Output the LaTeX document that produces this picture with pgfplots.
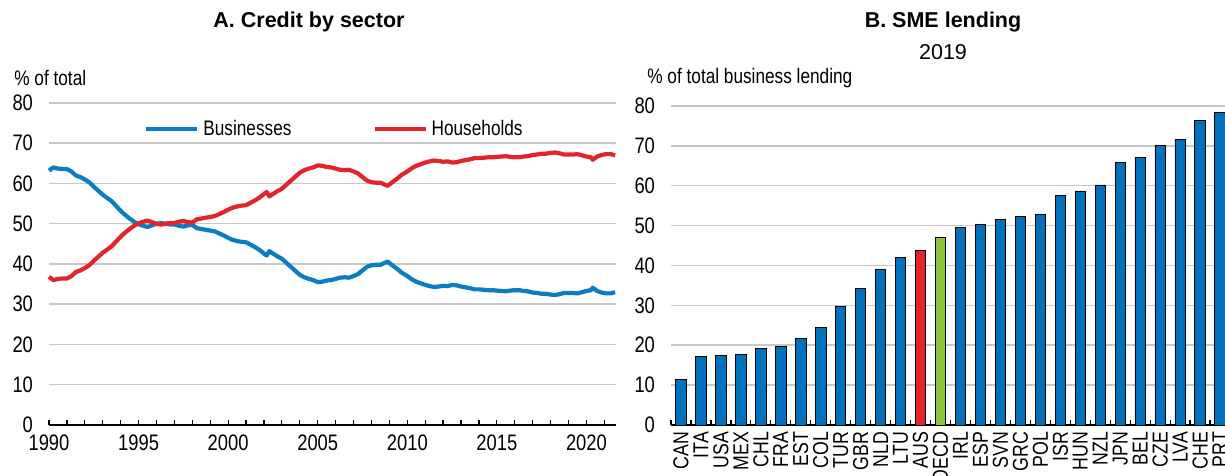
\documentclass[border=0pt]{standalone}
\usepackage{fontspec}
\setmainfont{Liberation Sans}
\newfontfamily\narrowfont{Liberation Sans}[FakeStretch=0.82]
\usepackage{pgfplots}
\usepackage{pgfplotstable}
\pgfplotsset{compat=1.18}
\definecolor{barblue}{HTML}{0072BC}
\definecolor{lineblue}{HTML}{0A7EC2}
\definecolor{ored}{HTML}{E3242B}
\definecolor{ogreen}{HTML}{8CC63F}
\definecolor{gridgray}{HTML}{C8C8C8}

\pgfplotstableread{
year bus hh
1990.00 63.2 36.8
1990.25 64.0 36.0
1990.50 63.7 36.3
1990.75 63.6 36.4
1991.00 63.6 36.4
1991.25 63.0 37.0
1991.50 62.0 38.0
1991.75 61.6 38.4
1992.00 61.0 39.0
1992.25 60.3 39.7
1992.50 59.2 40.8
1992.75 58.2 41.8
1993.00 57.2 42.8
1993.25 56.4 43.6
1993.50 55.6 44.4
1993.75 54.4 45.6
1994.00 53.2 46.8
1994.25 52.2 47.8
1994.50 51.3 48.7
1994.75 50.5 49.5
1995.00 49.9 50.1
1995.25 49.5 50.5
1995.50 49.2 50.8
1995.75 49.6 50.4
1996.00 50.0 50.0
1996.25 50.2 49.8
1996.50 50.0 50.0
1996.75 49.8 50.2
1997.00 49.8 50.2
1997.25 49.5 50.5
1997.50 49.3 50.7
1997.75 49.6 50.4
1998.00 49.7 50.3
1998.25 48.9 51.1
1998.50 48.7 51.3
1998.75 48.5 51.5
1999.00 48.3 51.7
1999.25 48.1 51.9
1999.50 47.6 52.4
1999.75 47.1 52.9
2000.00 46.5 53.5
2000.25 46.0 54.0
2000.50 45.7 54.3
2000.75 45.5 54.5
2001.00 45.4 54.6
2001.25 44.8 55.2
2001.50 44.2 55.8
2001.75 43.5 56.5
2002.00 42.6 57.4
2002.15 42.1 57.9
2002.30 43.2 56.8
2002.50 42.6 57.4
2002.75 41.9 58.1
2003.00 41.3 58.7
2003.25 40.3 59.7
2003.50 39.3 60.7
2003.75 38.3 61.7
2004.00 37.3 62.7
2004.25 36.7 63.3
2004.50 36.3 63.7
2004.75 36.0 64.0
2005.00 35.5 64.5
2005.25 35.6 64.4
2005.50 35.9 64.1
2005.75 36.0 64.0
2006.00 36.3 63.7
2006.25 36.6 63.4
2006.50 36.7 63.3
2006.75 36.6 63.4
2007.00 37.0 63.0
2007.25 37.5 62.5
2007.50 38.4 61.6
2007.75 39.3 60.7
2008.00 39.7 60.3
2008.25 39.8 60.2
2008.50 39.8 60.2
2008.75 40.3 59.7
2008.90 40.6 59.4
2009.10 39.9 60.1
2009.40 38.9 61.1
2009.70 37.8 62.2
2010.00 37.0 63.0
2010.25 36.2 63.8
2010.50 35.6 64.4
2010.75 35.2 64.8
2011.00 34.8 65.2
2011.25 34.5 65.5
2011.50 34.3 65.7
2011.75 34.4 65.6
2012.00 34.6 65.4
2012.25 34.5 65.5
2012.50 34.8 65.2
2012.75 34.7 65.3
2013.00 34.4 65.6
2013.25 34.2 65.8
2013.50 34.0 66.0
2013.75 33.7 66.3
2014.00 33.7 66.3
2014.25 33.6 66.4
2014.50 33.5 66.5
2014.75 33.5 66.5
2015.00 33.4 66.6
2015.25 33.3 66.7
2015.50 33.2 66.8
2015.75 33.4 66.6
2016.00 33.5 66.5
2016.25 33.5 66.5
2016.50 33.3 66.7
2016.75 33.2 66.8
2017.00 32.9 67.1
2017.25 32.8 67.2
2017.50 32.6 67.4
2017.75 32.6 67.4
2018.00 32.4 67.6
2018.25 32.3 67.7
2018.50 32.5 67.5
2018.75 32.8 67.2
2019.00 32.8 67.2
2019.25 32.8 67.2
2019.50 32.7 67.3
2019.75 33.0 67.0
2020.00 33.3 66.7
2020.25 33.5 66.5
2020.35 34.1 65.9
2020.60 33.3 66.7
2020.85 32.9 67.1
2021.10 32.7 67.3
2021.35 32.7 67.3
2021.60 33.0 67.0
}\credit

\pgfplotstableread{
x val
0 11.4
1 17.2
2 17.5
3 17.8
4 19.2
5 19.8
6 21.8
7 24.5
8 29.8
9 34.2
10 38.9
11 42.1
14 49.5
15 50.3
16 51.6
17 52.3
18 52.8
19 57.6
20 58.7
21 60.2
22 65.9
23 67.2
24 70.1
25 71.6
26 76.3
27 78.3
}\smeblue

\pgfplotsset{oecd/.style={
  scale only axis,
  anchor=south west,
  axis x line*=bottom, axis y line*=left,
  y axis line style={draw=none},
  x axis line style={black, line width=0.75pt, -},
  ymin=0, ymax=80, ytick={0,10,...,80},
  ymajorgrids, grid style={gridgray, line width=0.75pt},
  ytick style={draw=none},
  xtick style={black, line width=0.6pt},
  tick align=inside,
  /pgf/number format/assume math mode=true,
  /pgf/number format/1000 sep={},
  ticklabel style={font=\narrowfont\fontsize{11.2}{13}\selectfont},
  yticklabel style={xshift=-4.5pt},
  clip=false,
}}

\begin{document}
\begin{tikzpicture}[x=1pt,y=1pt]
\path[use as bounding box, clip] (0,0) rectangle (612.5,238);

% Panel A
\begin{axis}[oecd, at={(24.5pt,25.5pt)}, width=283.5pt, height=161pt,
  xmin=1990, xmax=2021.65,
  xtick={1990,1995,...,2020}, minor xtick={1991,...,2021},
  major tick length=2.5pt, minor tick length=2.5pt,
  xticklabel style={yshift=-1.2pt},
  legend style={draw=none, fill=none, at={(0.1672,0.919)}, anchor=west,
    legend columns=2, inner sep=0pt,
    font=\narrowfont\fontsize{10.5}{12}\selectfont,
    /tikz/every even column/.append style={column sep=38.5pt}},
  legend image code/.code={\draw[#1] (0pt,0pt) -- (25.5pt,0pt);},
]
\addplot[lineblue, line width=2.1pt, line join=round] table[x=year,y=bus] {\credit};
\addlegendentry{Businesses}
\addplot[ored, line width=2.1pt, line join=round] table[x=year,y=hh] {\credit};
\addlegendentry{Households}
\end{axis}

% Panel B
\begin{axis}[oecd, at={(335.5pt,25.5pt)}, width=279.5pt, height=159.5pt,
  xmin=-0.5, xmax=27.5,
  xtick={0,...,27},
  xticklabels={CAN,ITA,USA,MEX,CHL,FRA,EST,COL,TUR,GBR,NLD,LTU,AUS,OECD,IRL,ESP,SVN,GRC,POL,ISR,HUN,NZL,JPN,BEL,CZE,LVA,CHE,PRT},
  minor xtick={-0.5,0.5,...,27.5},
  major tick length=0pt, minor tick length=2.5pt,
  xticklabel style={rotate=90, anchor=east, font=\narrowfont\fontsize{10.8}{12}\selectfont},
]
\addplot[ybar, bar width=0.52, bar shift=0pt, fill=barblue, draw=black, line width=0.4pt] table[x=x,y=val] {\smeblue};
\addplot[ybar, bar width=0.52, bar shift=0pt, fill=ored, draw=black, line width=0.4pt] coordinates {(12,43.7)};
\addplot[ybar, bar width=0.52, bar shift=0pt, fill=ogreen, draw=black, line width=0.4pt] coordinates {(13,47.0)};
\end{axis}

% Titles and units
\node[font=\bfseries\fontsize{10.75}{13}\selectfont] at (154.5,227) {A. Credit by sector};
\node[font=\bfseries\fontsize{10.75}{13}\selectfont] at (471.5,227) {B. SME lending};
\node[font=\fontsize{10.75}{13}\selectfont] at (471.5,212) {2019};
\node[anchor=west, inner sep=0pt, font=\narrowfont\fontsize{10.5}{12}\selectfont] at (7,199) {\% of total};
\node[anchor=west, inner sep=0pt, font=\narrowfont\fontsize{10.5}{12}\selectfont] at (323.5,199) {\% of total business lending};
\end{tikzpicture}
\end{document}
